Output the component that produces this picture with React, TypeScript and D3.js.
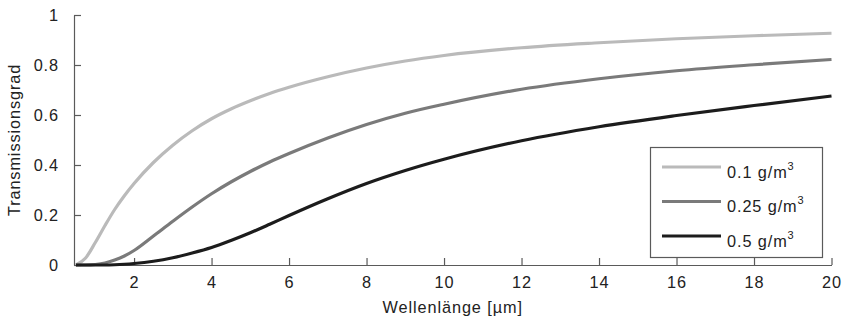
import React, { useEffect, useRef } from 'react';
import * as d3 from 'd3';

// data
const wavelength = [0.5, 0.75, 1, 1.25, 1.5, 1.75, 2, 2.5, 3, 3.5, 4, 4.5, 5, 5.5, 6, 7, 8, 9, 10, 12, 14, 16, 18, 20];
const t010 = [0, 0.028, 0.09, 0.158, 0.222, 0.277, 0.326, 0.41, 0.479, 0.537, 0.585, 0.624, 0.657, 0.686, 0.711, 0.753, 0.788, 0.816, 0.838, 0.869, 0.889, 0.905, 0.917, 0.927];
const t025 = [0, 0, 0.002, 0.008, 0.02, 0.036, 0.058, 0.116, 0.175, 0.232, 0.285, 0.332, 0.374, 0.412, 0.446, 0.508, 0.562, 0.607, 0.643, 0.703, 0.745, 0.777, 0.801, 0.822];
const t050 = [0, 0, 0, 0, 0.001, 0.003, 0.006, 0.015, 0.029, 0.048, 0.07, 0.098, 0.129, 0.163, 0.198, 0.265, 0.326, 0.378, 0.423, 0.497, 0.553, 0.598, 0.638, 0.676];
const seriesNames = ['0.1', '0.25', '0.5'];
const seriesColors = ['#bababa', '#7a7a7a', '#1c1c1c'];
const xTicks = [2, 4, 6, 8, 10, 12, 14, 16, 18, 20];
const yTicks = [0, 0.2, 0.4, 0.6, 0.8, 1];

export default function App() {
  const ref = useRef<SVGSVGElement>(null);

  useEffect(() => {
    draw();
  }, []);

  function draw() {
    const svg = d3.select(ref.current);
    svg.selectAll('*').remove();
    const font = 'Liberation Sans, Arial, sans-serif';
    const fontSize = 16.3;
    const spacing = 0.9;
    const axisColor = '#5a5a5a';

    const x = d3.scaleLinear().domain([0.45, 20]).range([74, 831.5]);
    const y = d3.scaleLinear().domain([0, 1]).range([265, 15]);

    // axes
    const xAxis = svg
      .append('g')
      .attr('transform', `translate(0,${y(0)})`)
      .call(d3.axisBottom(x).tickValues(xTicks).tickSize(-7).tickSizeOuter(0).tickPadding(11).tickFormat(d3.format('d')));
    const yAxis = svg
      .append('g')
      .attr('transform', `translate(${x(0.45)},0)`)
      .call(d3.axisLeft(y).tickValues(yTicks).tickSize(-7).tickSizeOuter(0).tickPadding(15).tickFormat((d) => `${d}`));
    [xAxis, yAxis].forEach((a) => {
      a.selectAll('path, line').attr('stroke', axisColor).attr('stroke-width', 1.2);
      a.selectAll('text')
        .attr('fill', '#222')
        .attr('font-size', fontSize)
        .attr('font-family', font)
        .attr('letter-spacing', spacing);
    });

    // lines
    const series = [t010, t025, t050];
    const line = d3
      .line<number>()
      .x((_, i) => x(wavelength[i]))
      .y((d) => y(d))
      .curve(d3.curveMonotoneX);
    series.forEach((s, i) => {
      svg
        .append('path')
        .attr('d', line(s))
        .attr('fill', 'none')
        .attr('stroke', seriesColors[i])
        .attr('stroke-width', 3.2);
    });

    // titles
    svg
      .append('text')
      .attr('x', 452.7)
      .attr('y', 313)
      .attr('text-anchor', 'middle')
      .attr('font-size', fontSize)
      .attr('font-family', font)
      .attr('letter-spacing', spacing)
      .attr('fill', '#222')
      .text('Wellenlänge [µm]');
    svg
      .append('text')
      .attr('transform', 'translate(20,140) rotate(-90)')
      .attr('text-anchor', 'middle')
      .attr('font-size', fontSize)
      .attr('font-family', font)
      .attr('letter-spacing', spacing)
      .attr('fill', '#222')
      .text('Transmissionsgrad');

    // legend
    const legend = svg.append('g');
    legend
      .append('rect')
      .attr('x', 650.5)
      .attr('y', 147.5)
      .attr('width', 172)
      .attr('height', 110)
      .attr('fill', '#fff')
      .attr('stroke', axisColor)
      .attr('stroke-width', 1.2);
    seriesNames.forEach((name, i) => {
      const cy = 167 + i * 34.5;
      legend
        .append('line')
        .attr('x1', 662)
        .attr('x2', 721)
        .attr('y1', cy)
        .attr('y2', cy)
        .attr('stroke', seriesColors[i])
        .attr('stroke-width', 3.2);
      const t = legend
        .append('text')
        .attr('x', 727)
        .attr('y', cy + 10.5)
        .attr('font-size', fontSize)
        .attr('font-family', font)
        .attr('letter-spacing', spacing)
        .attr('fill', '#222');
      t.append('tspan').text(`${name} g/m`);
      t.append('tspan').attr('font-size', 11).attr('dy', -8).text('3');
    });
  }

  return (
    <svg
      ref={ref}
      width={845}
      height={320}
      style={{ position: 'absolute', left: 0, top: 0, background: '#fff' }}
    />
  );
}
